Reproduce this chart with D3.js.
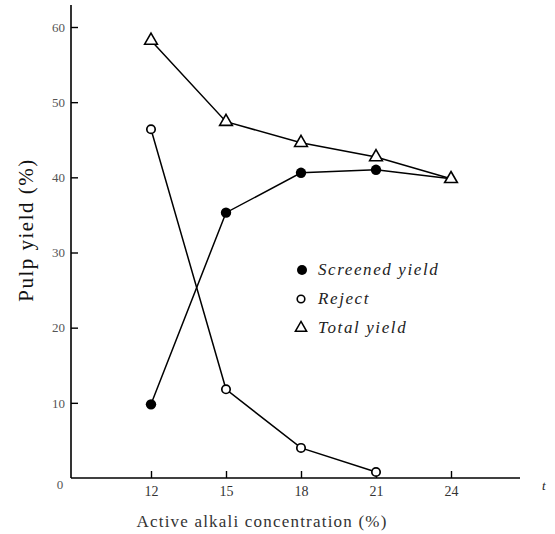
<!DOCTYPE html>
<html><head><meta charset="utf-8">
<script src="https://cdn.jsdelivr.net/npm/d3@7"></script>
<style>body{margin:0;background:#fff}svg{display:block}text{font-family:"Liberation Serif","DejaVu Serif",serif}</style>
</head><body>
<svg id="c" width="555" height="534"></svg>
<script>
const concentrations = [12, 15, 18, 21, 24];
const screenedYield = [9.8, 35.3, 40.6, 41.0, 39.8];
const rejectConc = [12, 15, 18, 21];
const rejectYield = [46.4, 11.8, 4.0, 0.8];
const totalYield = [58.2, 47.4, 44.6, 42.7, 39.8];
const yTickValues = [10, 20, 30, 40, 50, 60];
const xTickLabels = ["12", "15", "18", "21", "24"];
const legendLabels = ["Screened yield", "Reject", "Total yield"];

const svg = d3.select("#c");
const x = d3.scaleLinear().domain([12, 24]).range([151, 451]);
const y = d3.scaleLinear().domain([0, 60]).range([478, 27]);
const serif = "Liberation Serif, DejaVu Serif, serif";

// axes
const xAxis = d3.axisBottom(x).tickValues(concentrations).tickSize(-7)
  .tickFormat((d, i) => xTickLabels[i]);
const gx = svg.append("g").attr("transform", "translate(0,478)").call(xAxis);
gx.attr("font-family", null);
gx.select(".domain").remove();
gx.append("line").attr("x1", 71).attr("x2", 520).attr("y1", 0).attr("y2", 0)
  .attr("stroke", "#000").attr("stroke-width", 1.6);
gx.selectAll(".tick line").attr("stroke", "#000").attr("stroke-width", 1.4);
gx.selectAll(".tick text").style("font-family", serif).attr("font-size", 14)
  .attr("fill", "#333").attr("dy", "1.05em");

const yAxis = d3.axisLeft(y).tickValues(yTickValues).tickSize(-7);
const gy = svg.append("g").attr("transform", "translate(71,0)").call(yAxis);
gy.attr("font-family", null);
gy.select(".domain").remove();
gy.append("line").attr("x1", 0).attr("x2", 0).attr("y1", 5).attr("y2", 478)
  .attr("stroke", "#000").attr("stroke-width", 1.6);
gy.selectAll(".tick line").attr("stroke", "#000").attr("stroke-width", 1.4);
gy.selectAll(".tick text").style("font-family", serif).attr("font-size", 13)
  .attr("fill", "#555").attr("x", -6);

svg.append("text").attr("x", 60).attr("y", y(0) + 11).attr("text-anchor", "middle")
  .style("font-family", serif).attr("font-size", 13).attr("fill", "#555").text("0");
svg.append("text").attr("x", 542).attr("y", 490).style("font-family", serif)
  .attr("font-style", "italic").attr("font-size", 13).attr("fill", "#222").text("t");

// titles
svg.append("text").attr("transform", "translate(33,230) rotate(-90)")
  .attr("text-anchor", "middle").style("font-family", serif).attr("font-size", 21)
  .attr("letter-spacing", 1.5).attr("fill", "#111").text("Pulp yield (%)");
svg.append("text").attr("x", 262).attr("y", 527)
  .attr("text-anchor", "middle").style("font-family", serif).attr("font-size", 17)
  .attr("letter-spacing", 1.2).attr("fill", "#333").text("Active alkali concentration (%)");

// lines
const line = d3.line().x(d => x(d[0])).y(d => y(d[1]));
const sData = concentrations.map((c, i) => [c, screenedYield[i]]);
const rData = rejectConc.map((c, i) => [c, rejectYield[i]]);
const tData = concentrations.map((c, i) => [c, totalYield[i]]);
[sData, rData, tData].forEach(d => svg.append("path").attr("d", line(d))
  .attr("fill", "none").attr("stroke", "#000").attr("stroke-width", 1.5));

// markers (screened point that coincides with total is shown only by the triangle)
svg.selectAll(".s").data(sData.filter((d, i) => d[1] !== totalYield[i])).join("circle")
  .attr("cx", d => x(d[0])).attr("cy", d => y(d[1]))
  .attr("r", 5.2).attr("fill", "#000");
svg.selectAll(".r").data(rData).join("circle").attr("cx", d => x(d[0])).attr("cy", d => y(d[1]))
  .attr("r", 4.2).attr("fill", "#fff").attr("stroke", "#000").attr("stroke-width", 1.7);
const tri = d3.symbol().type(d3.symbolTriangle).size(70);
svg.selectAll(".t").data(tData).join("path")
  .attr("transform", d => `translate(${x(d[0])},${y(d[1])})`)
  .attr("d", tri).attr("fill", "#fff").attr("stroke", "#000").attr("stroke-width", 1.6);

// legend
const lg = svg.append("g");
const ly = [270, 299, 328];
lg.append("circle").attr("cx", 302).attr("cy", ly[0]).attr("r", 5).attr("fill", "#000");
lg.append("circle").attr("cx", 301).attr("cy", ly[1]).attr("r", 3.8).attr("fill", "#fff")
  .attr("stroke", "#000").attr("stroke-width", 1.6);
lg.append("path").attr("transform", `translate(301,${ly[2]})`)
  .attr("d", d3.symbol().type(d3.symbolTriangle).size(55)).attr("fill", "#fff")
  .attr("stroke", "#000").attr("stroke-width", 1.5);
lg.selectAll("text.lab").data(legendLabels).join("text")
  .attr("x", 318).attr("y", (d, i) => ly[i] + 5)
  .style("font-family", serif).attr("font-style", "italic").attr("font-size", 17)
  .attr("letter-spacing", 1.6).attr("fill", "#222").text(d => d);
</script>
</body></html>
